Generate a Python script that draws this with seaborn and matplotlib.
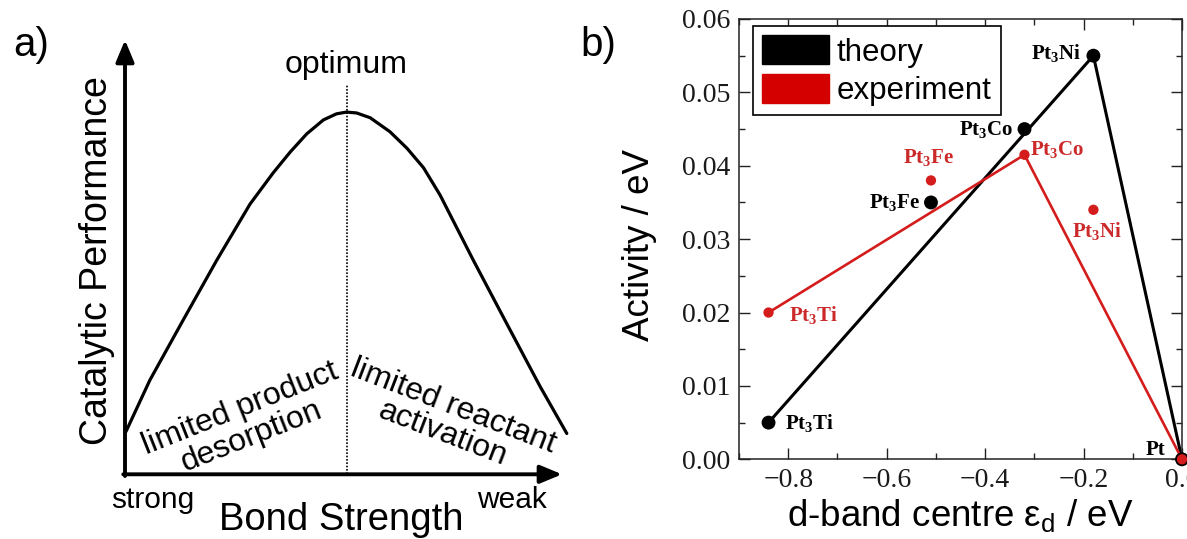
import numpy as np
import pandas as pd
import matplotlib
matplotlib.use("Agg")
import matplotlib.pyplot as plt
import seaborn as sns
from matplotlib.patches import Patch
from matplotlib.ticker import MultipleLocator, FuncFormatter

sns.set_theme(style="white")
plt.rcParams["font.family"] = ["Liberation Sans", "DejaVu Sans"]
plt.rcParams["mathtext.default"] = "regular"
plt.rcParams["text.color"] = "black"
plt.rcParams["axes.labelcolor"] = "black"

# ---------------- Panel a data (schematic volcano curve) ----------------
bond_strength = [0.002, 0.057, 0.133, 0.210, 0.286, 0.339, 0.378, 0.416, 0.454, 0.484,
                 0.507, 0.530, 0.561, 0.606, 0.645, 0.683, 0.721, 0.797, 0.873, 0.950, 1.011]
performance = [0.098, 0.217, 0.355, 0.493, 0.622, 0.694, 0.742, 0.784, 0.816, 0.830,
               0.834, 0.832, 0.821, 0.789, 0.751, 0.706, 0.643, 0.493, 0.348, 0.202, 0.094]
optimum_x = 0.507

# ---------------- Panel b data ----------------
alloys = ["Pt$_3$Ti", "Pt$_3$Fe", "Pt$_3$Co", "Pt$_3$Ni", "Pt"]
d_band = [-0.84, -0.51, -0.32, -0.18, 0.0]
activity_theory = [0.005, 0.035, 0.045, 0.055, 0.0]
activity_experiment = [0.020, 0.038, 0.0415, 0.034, 0.0]
theory_line_idx = [0, 3, 4]       # Pt3Ti -> Pt3Ni -> Pt
experiment_line_idx = [0, 2, 4]   # Pt3Ti -> Pt3Co -> Pt
series_names = ["theory", "experiment"]

RED = "#d41c1c"
RED_TXT = "#cc2a2a"

W, H = 1187, 539
fig = plt.figure(figsize=(W / 100, H / 100), dpi=100)

# ================= Panel a =================
ax_a = fig.add_axes([125 / W, 1 - 474.3 / H, 437 / W, 434.3 / H])
ax_a.set_xlim(0, 1)
ax_a.set_ylim(0, 1)
ax_a.axis("off")

sns.lineplot(x=bond_strength, y=performance, ax=ax_a, color="black", lw=2.3,
             sort=False, estimator=None)
for ln in ax_a.lines:
    ln.set_clip_on(False)
    ln.set_solid_joinstyle("round")

ax_a.plot([optimum_x, optimum_x], [0, 0.896], color="black", lw=1.2,
          dashes=(1, 1), clip_on=False)

arrow_kw = dict(arrowstyle="-|>,head_length=0.6,head_width=0.25", lw=2.8,
                color="black", shrinkA=0, shrinkB=0, mutation_scale=22)
ax_a.annotate("", xy=(0, 1), xytext=(0, -0.004), xycoords="axes fraction",
              textcoords="axes fraction", arrowprops=arrow_kw)
ax_a.annotate("", xy=(1, 0), xytext=(-0.004, 0), xycoords="axes fraction",
              textcoords="axes fraction", arrowprops=arrow_kw)

ax_a.text(0.505, 0.942, "optimum", ha="center", va="center", fontsize=23)
ax_a.text(0.064, -0.059, "strong", ha="center", va="center", fontsize=21.5)
ax_a.text(0.885, -0.059, "weak", ha="center", va="center", fontsize=21.5)
ax_a.text(0.495, -0.105, "Bond Strength", ha="center", va="center", fontsize=27.5)
ax_a.text(-0.065, 0.493, "Catalytic Performance", ha="center", va="center",
          rotation=90, fontsize=27)
ax_a.text(0.277, 0.119, "limited product\ndesorption", ha="center", va="center",
          rotation=21.6, rotation_mode="anchor", multialignment="center",
          fontsize=23, linespacing=1.0)
ax_a.text(0.739, 0.125, "limited reactant\nactivation", ha="center", va="center",
          rotation=-21, rotation_mode="anchor", multialignment="center",
          fontsize=23, linespacing=1.0)

fig.text(31 / W, 1 - 45 / H, "a)", ha="center", va="center", fontsize=29)
fig.text(598 / W, 1 - 45 / H, "b)", ha="center", va="center", fontsize=29)

# ================= Panel b =================
ax_b = fig.add_axes([739 / W, 1 - 459.3 / H, 443 / W, 440.3 / H])

df = pd.DataFrame({"alloy": alloys, "d_band": d_band,
                   "theory": activity_theory, "experiment": activity_experiment})
df_th = df.iloc[theory_line_idx]
df_ex = df.iloc[experiment_line_idx]

sns.lineplot(data=df_th, x="d_band", y="theory", ax=ax_b, color="black", lw=2.2,
             sort=False, estimator=None)
sns.lineplot(data=df_ex, x="d_band", y="experiment", ax=ax_b, color=RED, lw=1.9,
             sort=False, estimator=None)
sns.scatterplot(data=df, x="d_band", y="theory", ax=ax_b, color="black", s=100,
                edgecolor="none", zorder=4, clip_on=False)
sns.scatterplot(data=df, x="d_band", y="experiment", ax=ax_b, color=RED, s=55,
                edgecolor="none", zorder=5, clip_on=False)

# point labels (offsets in points)
th_off = [((12, 0), "left"), ((-8, 0), "right"), ((-8, 0), "right"),
          ((-9, 2), "right"), ((-12, 6.5), "right")]
ex_off = [((14.4, -1.7), "left"), ((-2, 16.6), "center"), ((4.3, 3.6), "left"),
          ((3, -15.5), "center"), None]
for name, xv, yv, off in zip(alloys, d_band, activity_theory, th_off):
    ax_b.annotate(name, (xv, yv), xytext=off[0], textcoords="offset points",
                  ha=off[1], va="center", fontsize=15, fontweight="bold",
                  family="Liberation Serif", color="black", zorder=6,
                  annotation_clip=False)
for name, xv, yv, off in zip(alloys, d_band, activity_experiment, ex_off):
    if off is None:
        continue
    ax_b.annotate(name, (xv, yv), xytext=off[0], textcoords="offset points",
                  ha=off[1], va="center", fontsize=15, fontweight="bold",
                  family="Liberation Serif", color=RED_TXT, zorder=6,
                  annotation_clip=False)

ax_b.set_xlim(-0.9, 0.0)
ax_b.set_ylim(0, 0.06)
ax_b.xaxis.set_major_locator(MultipleLocator(0.2))
ax_b.xaxis.set_minor_locator(MultipleLocator(0.1))
ax_b.yaxis.set_major_locator(MultipleLocator(0.01))
ax_b.yaxis.set_minor_locator(MultipleLocator(0.005))


def fmt_x(v, pos):
    s = f"{v:.1f}"
    if s == "-0.0":
        s = "0.0"
    return s.replace("-", "\u2212")


def fmt_y(v, pos):
    return f"{abs(v):.2f}" if abs(v) < 1e-9 else f"{v:.2f}"


ax_b.xaxis.set_major_formatter(FuncFormatter(fmt_x))
ax_b.yaxis.set_major_formatter(FuncFormatter(fmt_y))

ax_b.tick_params(which="both", direction="in", top=True, right=True,
                 bottom=True, left=True, color="#222222", width=1.0)
ax_b.tick_params(which="major", length=8, labelsize=20, pad=6,
                 labelfontfamily="Liberation Serif", labelcolor="#1a1a1a")
ax_b.tick_params(which="minor", length=4.5)
for sp in ax_b.spines.values():
    sp.set_color("#222222")
    sp.set_linewidth(1.1)

ax_b.set_xlabel("d-band centre ε$_d$ / eV", fontsize=26.5)
ax_b.set_ylabel("Activity / eV", fontsize=26.5)
ax_b.xaxis.set_label_coords(0.5, -0.086)
ax_b.yaxis.set_label_coords(-0.185, 0.487)

handles = [Patch(facecolor="black", edgecolor="black", label=series_names[0]),
           Patch(facecolor="#d40000", edgecolor="#d40000", label=series_names[1])]
leg = ax_b.legend(handles=handles, loc="upper left", bbox_to_anchor=(0.0316, 0.984),
                  borderaxespad=0, fontsize=22.5, handlelength=2.12, handleheight=1.05,
                  handletextpad=0.25, labelspacing=0.2, borderpad=0.3,
                  frameon=True, fancybox=False, edgecolor="black", framealpha=1)
leg.get_frame().set_linewidth(1.2)

fig.savefig("out.png", dpi=100)
